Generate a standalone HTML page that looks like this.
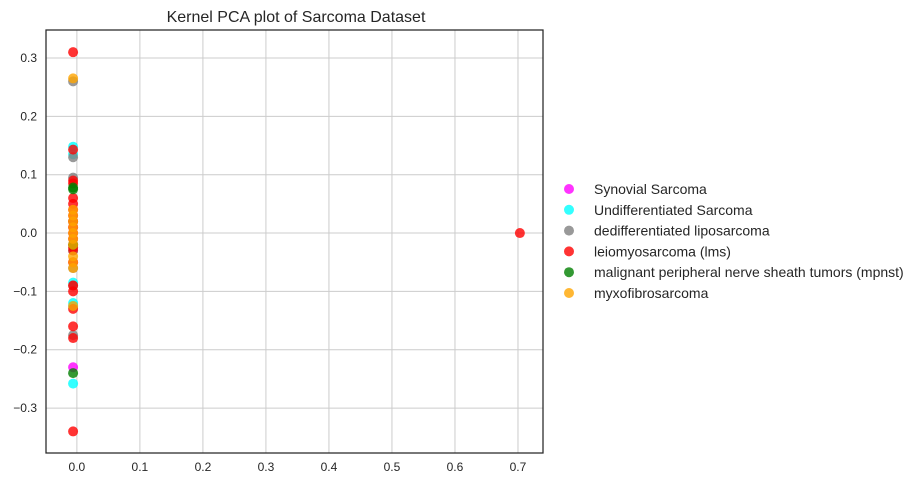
<!DOCTYPE html>
<html><head><meta charset="utf-8"><style>
body{margin:0;background:#fff;font-family:"Liberation Sans",sans-serif;}
svg text{font-family:"Liberation Sans",sans-serif;fill:#262626;}
</style></head><body>
<svg width="918" height="487" id="chart">
<text x="296" y="22" font-size="16" text-anchor="middle">Kernel PCA plot of Sarcoma Dataset</text>
<g id="grid"></g><g id="pts"></g><g id="axes"></g><g id="legend"></g>
</svg>
<script>
const xTicks=[0.0,0.1,0.2,0.3,0.4,0.5,0.6,0.7];
const yTicks=[0.3,0.2,0.1,0.0,-0.1,-0.2,-0.3];
const seriesNames=["Synovial Sarcoma","Undifferentiated Sarcoma","dedifferentiated liposarcoma","leiomyosarcoma (lms)","malignant peripheral nerve sheath tumors (mpnst)","myxofibrosarcoma"];
const seriesColors=["#ff00ff","#00ffff","#808080","#ff0000","#008000","#ffa500"];
const synX=[-0.006,-0.006,-0.006];
const synY=[-0.23,-0.05,0.01];
const undX=[-0.006,-0.006,-0.006,-0.006,-0.006,-0.006,-0.006];
const undY=[0.148,0.135,-0.085,-0.12,-0.125,-0.258,-0.03];
const dedX=[-0.006,-0.006,-0.006,-0.006,-0.006,-0.006,-0.006];
const dedY=[0.26,0.13,0.095,-0.06,-0.175,-0.09,0.02];
const lmsX=[-0.006,-0.006,-0.006,-0.006,-0.006,-0.006,-0.006,-0.006,-0.006,-0.006,-0.006,-0.006,-0.006,-0.006,-0.006,-0.006,-0.006,-0.006,-0.006,-0.006,-0.006,-0.006,0.703];
const lmsY=[0.31,0.143,0.09,0.085,0.06,0.05,0.04,0.03,0.02,0.01,0.0,-0.01,-0.02,-0.025,-0.03,-0.05,-0.09,-0.1,-0.13,-0.16,-0.18,-0.34,0.0];
const mpnX=[-0.006,-0.006,-0.006,-0.006];
const mpnY=[0.078,0.075,-0.24,-0.02];
const myxX=[-0.006,-0.006,-0.006,-0.006,-0.006,-0.006,-0.006,-0.006,-0.006,-0.006,-0.006,-0.006];
const myxY=[0.265,0.04,0.03,0.02,0.01,0.0,-0.01,-0.02,-0.04,-0.05,-0.06,-0.125];
const allX=[synX,undX,dedX,lmsX,mpnX,myxX], allY=[synY,undY,dedY,lmsY,mpnY,myxY];
const L=46,R=543,T=30,B=453,xmin=-0.049,xmax=0.7397,ymin=-0.377,ymax=0.348;
const sx=v=>L+(v-xmin)/(xmax-xmin)*(R-L), sy=v=>B-(v-ymin)/(ymax-ymin)*(B-T);
const NS="http://www.w3.org/2000/svg";
function mk(t,a,p){const e=document.createElementNS(NS,t);for(const k in a)e.setAttribute(k,a[k]);p.appendChild(e);return e;}
const grid=document.getElementById('grid'),axes=document.getElementById('axes'),pts=document.getElementById('pts'),leg=document.getElementById('legend');
xTicks.forEach(v=>{const x=sx(v);
const g=mk('line',{x1:x,x2:x,y1:T,y2:B,stroke:'#cccccc','stroke-width':1},grid);


const t=mk('text',{x:x,y:B+18,'font-size':12,'text-anchor':'middle'},axes);t.textContent=v.toFixed(1);

});
yTicks.forEach(v=>{const y=sy(v);
const g=mk('line',{x1:L,x2:R,y1:y,y2:y,stroke:'#cccccc','stroke-width':1},grid);


const t=mk('text',{x:L-9,y:y+4,'font-size':12,'text-anchor':'end'},axes);t.textContent=(v<0?'\u2212'+(-v).toFixed(1):v.toFixed(1));

});
const fr=mk('rect',{x:L,y:T,width:R-L,height:B-T,fill:'none',stroke:'#262626','stroke-width':1.25},axes);


allX.forEach((xs,i)=>{xs.forEach((xv,j)=>{
const c=mk('circle',{cx:sx(xv),cy:sy(allY[i][j]),r:5,fill:seriesColors[i],'fill-opacity':0.8},pts);

});
const ly=189+i*20.8;
const m=mk('circle',{cx:569,cy:ly,r:5,fill:seriesColors[i],'fill-opacity':0.8},leg);


const t=mk('text',{x:594,y:ly+5,'font-size':14},leg);t.textContent=seriesNames[i];

});
</script>
</body></html>
